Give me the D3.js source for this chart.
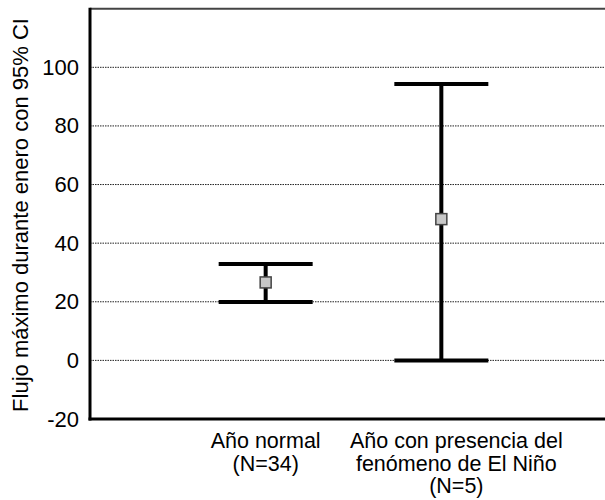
<!DOCTYPE html>
<html>
<head>
<meta charset="utf-8">
<script src="https://cdn.jsdelivr.net/npm/d3@7"></script>
<style>
  html, body { margin: 0; padding: 0; background: #fff; }
  svg { display: block; font-family: "Liberation Sans", Arial, sans-serif; }
</style>
</head>
<body>
<svg id="chart" width="605" height="500"></svg>
<script>
// ---- data ----
const categories = [
  ["Año normal", "(N=34)"],
  ["Año con presencia del", "fenómeno de El Niño", "(N=5)"]
];
const categoryKeys = ["normal", "nino"];
const means = [26.6, 48.2];
const lowerCI = [19.9, 0.0];
const upperCI = [32.9, 94.3];
const yTicks = [-20, 0, 20, 40, 60, 80, 100];
const gridTicks = [0, 20, 40, 60, 80, 100];
const yTitle = "Flujo máximo durante enero con 95% CI";

// ---- layout ----
const svg = d3.select("#chart");
const mLeft = 90, mRight = 617, mTop = 8.7, mBottom = 419;
const fs = 21.5;
const labelShift = [0, 15];

const y = d3.scaleLinear().domain([-20, 120]).range([mBottom, mTop]);
const x = d3.scalePoint().domain(categoryKeys).range([mLeft, mRight]).padding(1);

// gridlines
svg.append("g").selectAll("line").data(gridTicks).join("line")
  .attr("x1", mLeft).attr("x2", 605)
  .attr("y1", d => y(d)).attr("y2", d => y(d))
  .attr("stroke", "#222").attr("stroke-width", 1)
  .attr("stroke-dasharray", "1.5,1");

// top border
svg.append("line").attr("x1", mLeft).attr("x2", 605)
  .attr("y1", y(120)).attr("y2", y(120))
  .attr("stroke", "#444").attr("stroke-width", 2);

// y axis
const yAxis = d3.axisLeft(y).tickValues(yTicks).tickSize(0).tickPadding(11)
  .tickFormat(d => String(d));
const gy = svg.append("g").attr("transform", `translate(${mLeft},0)`).call(yAxis);
gy.select(".domain").remove();
gy.attr("font-family", "'Liberation Sans', Arial, sans-serif").attr("font-size", 22);
gy.selectAll("text").attr("fill", "#000");

// axis lines
svg.append("line").attr("x1", mLeft).attr("x2", mLeft)
  .attr("y1", y(120) - 1).attr("y2", mBottom + 1.5)
  .attr("stroke", "#000").attr("stroke-width", 3);
svg.append("line").attr("x1", mLeft - 1.5).attr("x2", 605)
  .attr("y1", mBottom).attr("y2", mBottom)
  .attr("stroke", "#000").attr("stroke-width", 3);

// y title
svg.append("text")
  .attr("transform", `translate(28,215) rotate(-90)`)
  .attr("text-anchor", "middle")
  .attr("font-size", 22)
  .attr("fill", "#000")
  .text(yTitle);

// x labels
const xl = svg.append("g");
categoryKeys.forEach((k, i) => {
  const lx = x(k) + labelShift[i];
  categories[i].forEach((line, j) => {
    xl.append("text")
      .attr("x", lx).attr("y", 448 + j * 22.5)
      .attr("text-anchor", "middle")
      .attr("font-size", fs).attr("fill", "#000")
      .text(line);
  });
});

// error bars
const capHalf = 47;
const bars = svg.append("g");
categoryKeys.forEach((k, i) => {
  const cx = x(k);
  bars.append("line").attr("x1", cx).attr("x2", cx)
    .attr("y1", y(upperCI[i])).attr("y2", y(lowerCI[i]))
    .attr("stroke", "#000").attr("stroke-width", 4);
  [upperCI[i], lowerCI[i]].forEach(v => {
    bars.append("line").attr("x1", cx - capHalf).attr("x2", cx + capHalf)
      .attr("y1", y(v)).attr("y2", y(v))
      .attr("stroke", "#000").attr("stroke-width", 4);
  });
  bars.append("rect")
    .attr("x", cx - 5.5).attr("y", y(means[i]) - 5.5)
    .attr("width", 11).attr("height", 11)
    .attr("fill", "#c8c8c8").attr("stroke", "#444").attr("stroke-width", 1.5);
});
</script>
</body>
</html>
